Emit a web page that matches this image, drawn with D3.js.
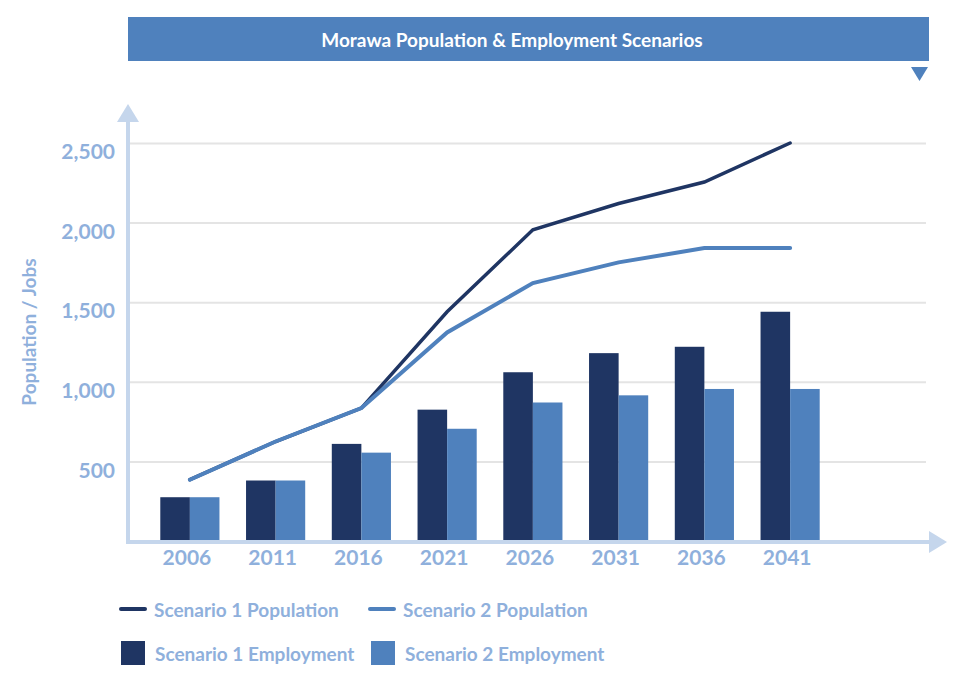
<!DOCTYPE html>
<html>
<head>
<meta charset="utf-8">
<script src="https://cdn.jsdelivr.net/npm/d3@7"></script>
<style>
  body { margin: 0; background: #fff; }
  svg text { font-family: Lato, "Open Sans", sans-serif; font-weight: bold; }
</style>
</head>
<body>
<svg></svg>
<script>
let width = 953, height = 675;

// data
let years = ["2006", "2011", "2016", "2021", "2026", "2031", "2036", "2041"];
let s1Employment = [275, 380, 610, 825, 1060, 1180, 1220, 1440];
let s2Employment = [275, 380, 555, 705, 870, 915, 955, 955];
let s1Population = [385, 625, 835, 1440, 1955, 2120, 2255, 2500];
let s2Population = [385, 625, 835, 1310, 1620, 1750, 1840, 1840];
let yTicks = [500, 1000, 1500, 2000, 2500];

let navy = "#1f3563", blue = "#4f81bd", axisBlue = "#c5d6ec", textBlue = "#8fb0dc";

let svg = d3.select("svg")
    .attr("width", width)
    .attr("height", height);

// title bar
svg.append("rect")
    .attr("x", 128).attr("y", 17)
    .attr("width", 801).attr("height", 44)
    .attr("fill", blue);
svg.append("text")
    .attr("x", 512).attr("y", 39)
    .attr("text-anchor", "middle")
    .attr("dominant-baseline", "central")
    .attr("fill", "#fff")
    .style("font-size", "19px")
    .text("Morawa Population & Employment Scenarios");
svg.append("path")
    .attr("d", "M911,67 L928,67 L919.5,81 Z")
    .attr("fill", blue);

let x = d3.scaleBand()
    .domain(years)
    .range([147, 833])
    .paddingInner(0.31)
    .paddingOuter(0.155);

let inner = d3.scaleBand()
    .domain([0, 1])
    .range([0, x.bandwidth()]);

let y = d3.scaleLinear()
    .domain([0, 2500])
    .range([541, 143]);

// gridlines
svg.append("g")
    .attr("transform", "translate(128,0)")
    .call(d3.axisRight(y).tickValues(yTicks).tickSize(798).tickFormat(""))
    .call(g => g.select(".domain").remove())
    .call(g => g.selectAll("line").attr("stroke", "#e4e4e4").attr("stroke-width", 2));

// bars
let groups = svg.append("g")
    .selectAll("g")
    .data(years)
    .enter()
    .append("g")
    .attr("transform", d => "translate(" + x(d) + ",0)");

groups.append("rect")
    .attr("x", inner(0))
    .attr("width", inner.bandwidth())
    .attr("y", (d, i) => y(s1Employment[i]))
    .attr("height", (d, i) => y(0) - y(s1Employment[i]))
    .attr("fill", navy);

groups.append("rect")
    .attr("x", inner(1))
    .attr("width", inner.bandwidth())
    .attr("y", (d, i) => y(s2Employment[i]))
    .attr("height", (d, i) => y(0) - y(s2Employment[i]))
    .attr("fill", blue);

// lines
let line = d3.line()
    .x((d, i) => x(years[i]) + x.bandwidth() / 2)
    .y(d => y(d));

svg.append("path")
    .attr("d", line(s1Population))
    .attr("fill", "none")
    .attr("stroke", navy)
    .attr("stroke-width", 3.5)
    .attr("stroke-linecap", "round");

svg.append("path")
    .attr("d", line(s2Population))
    .attr("fill", "none")
    .attr("stroke", blue)
    .attr("stroke-width", 4)
    .attr("stroke-linecap", "round");

// axes with arrows
svg.append("line")
    .attr("x1", 128).attr("x2", 128)
    .attr("y1", 543).attr("y2", 118)
    .attr("stroke", axisBlue).attr("stroke-width", 4);
svg.append("path")
    .attr("d", "M128,104 L139,122 L117,122 Z")
    .attr("fill", axisBlue);
svg.append("line")
    .attr("x1", 126).attr("x2", 932)
    .attr("y1", 542).attr("y2", 542)
    .attr("stroke", axisBlue).attr("stroke-width", 4);
svg.append("path")
    .attr("d", "M947,542 L929,531 L929,553 Z")
    .attr("fill", axisBlue);

// tick labels (sit a little below their gridline, as in the original)
svg.append("g")
    .attr("transform", "translate(118,9)")
    .call(d3.axisLeft(y).tickValues(yTicks).tickSize(0).tickFormat(d3.format(",")))
    .call(g => g.select(".domain").remove())
    .call(g => g.selectAll("text")
        .attr("fill", textBlue)
        .style("font-size", "21px")
        .style("font-family", "Lato, sans-serif")
        .style("font-weight", "bold"));

svg.append("g")
    .attr("transform", "translate(-3,547)")
    .call(d3.axisBottom(x).tickSize(0))
    .call(g => g.select(".domain").remove())
    .call(g => g.selectAll("text")
        .attr("fill", textBlue)
        .style("font-size", "21px")
        .style("font-family", "Lato, sans-serif")
        .style("font-weight", "bold"));

svg.append("text")
    .attr("transform", "translate(36,332) rotate(-90)")
    .attr("text-anchor", "middle")
    .attr("fill", textBlue)
    .style("font-size", "19px")
    .text("Population / Jobs");

// legend
let legendItems = [
    { label: "Scenario 1 Population", color: navy, type: "line", lx: 120, ly: 609 },
    { label: "Scenario 2 Population", color: blue, type: "line", lx: 369, ly: 609 },
    { label: "Scenario 1 Employment", color: navy, type: "rect", lx: 121, ly: 653 },
    { label: "Scenario 2 Employment", color: blue, type: "rect", lx: 371, ly: 653 }
];

let legend = svg.append("g");
legendItems.forEach(item => {
    if (item.type === "line") {
        legend.append("line")
            .attr("x1", item.lx + 1).attr("x2", item.lx + 25)
            .attr("y1", item.ly).attr("y2", item.ly)
            .attr("stroke", item.color).attr("stroke-width", 4)
            .attr("stroke-linecap", "round");
    } else {
        legend.append("rect")
            .attr("x", item.lx).attr("y", item.ly - 12)
            .attr("width", 24).attr("height", 24)
            .attr("fill", item.color);
    }
    legend.append("text")
        .attr("x", item.lx + 34)
        .attr("y", item.ly)
        .attr("dominant-baseline", "central")
        .attr("fill", textBlue)
        .style("font-size", "19px")
        .text(item.label);
});
</script>
</body>
</html>
